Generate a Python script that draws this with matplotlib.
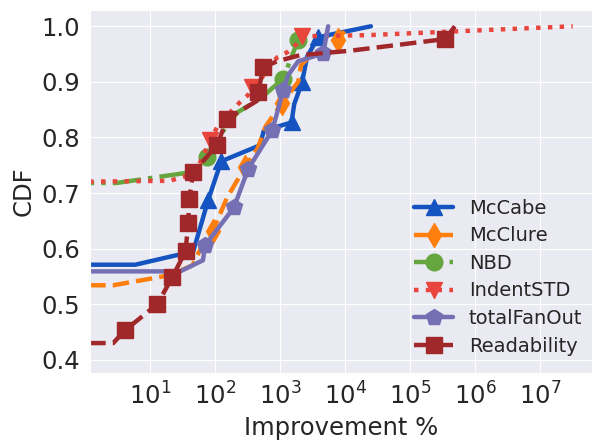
import matplotlib
matplotlib.use("Agg")
import matplotlib.pyplot as plt
import seaborn as sns

# CDF curves (x = improvement %, y = CDF)
mccabe_x = [0.5, 5.9, 46, 78, 124, 493, 560, 1500, 1650, 2180, 2600, 3830, 6000, 25000]
mccabe_y = [0.571, 0.571, 0.595, 0.687, 0.757, 0.786, 0.812, 0.827, 0.860, 0.899, 0.945, 0.980, 0.985, 1.0]
mccabe_marks = [3, 4, 7, 9, 11]

mcclure_x = [0.5, 2.7, 20, 45, 60, 93, 150, 290, 450, 600, 1070, 1900, 2100, 2800, 5500, 7800, 11000]
mcclure_y = [0.534, 0.534, 0.552, 0.570, 0.600, 0.632, 0.690, 0.747, 0.780, 0.820, 0.862, 0.900, 0.930, 0.945, 0.955, 0.975, 1.0]
mcclure_marks = [5, 7, 10, 15]

nbd_x = [0.5, 3, 40, 76, 130, 220, 500, 1120, 1500, 1900, 2700]
nbd_y = [0.718, 0.718, 0.737, 0.764, 0.810, 0.845, 0.870, 0.906, 0.945, 0.975, 1.0]
nbd_marks = [3, 7, 9]

indent_x = [0.5, 20, 49, 84, 107, 183, 240, 320, 370, 490, 900, 1280, 1830, 2180, 21800, 2.2e5, 3.2e7]
indent_y = [0.720, 0.722, 0.735, 0.795, 0.818, 0.849, 0.863, 0.876, 0.890, 0.903, 0.944, 0.953, 0.969, 0.982, 0.984, 0.989, 1.0]
indent_marks = [3, 8, 13]

fanout_x = [0.5, 29, 65, 70, 195, 322, 760, 1120, 1330, 1900, 4600, 5500]
fanout_y = [0.559, 0.559, 0.579, 0.606, 0.674, 0.743, 0.813, 0.885, 0.912, 0.937, 0.951, 1.0]
fanout_marks = [3, 4, 5, 6, 7, 10]

read_x = [0.5, 2.7, 4.1, 12.9, 22, 35, 38.5, 40, 46, 107, 152, 290, 430, 460, 550, 900, 2030, 12000, 3.5e5, 4.9e5]
read_y = [0.430, 0.430, 0.453, 0.500, 0.549, 0.595, 0.646, 0.690, 0.737, 0.786, 0.833, 0.853, 0.865, 0.881, 0.926, 0.937, 0.948, 0.956, 0.977, 1.0]
read_marks = [2, 3, 4, 5, 6, 7, 8, 9, 10, 13, 14, 18]

sns.set_style("darkgrid")
fig = plt.figure(figsize=(5.93, 4.41), dpi=100)
ax = fig.add_axes([0.152, 0.154, 0.846, 0.823])

kw = dict(lw=3.2, ms=12)
ax.plot(mccabe_x, mccabe_y, '-', marker='^', color='#1554c0', markevery=mccabe_marks, label='McCabe', **kw)
ax.plot(mcclure_x, mcclure_y, '--', marker='d', color='#ff7f0e', markevery=mcclure_marks, label='McClure', **kw)
ax.plot(nbd_x, nbd_y, '-.', marker='o', color='#66a63f', markevery=nbd_marks, label='NBD', **kw)
ax.plot(indent_x, indent_y, ':', marker='v', color='#e8453c', markevery=indent_marks, label='IndentSTD', **kw)
ax.plot(fanout_x, fanout_y, '-', marker='p', color='#7570b3', markevery=fanout_marks, label='totalFanOut', **kw)
ax.plot(read_x, read_y, '--', marker='s', color='#a1282a', markevery=read_marks, label='Readability', **kw)

ax.set_xscale('log')
ax.set_xlim(1.19, 6.3e7)
ax.set_ylim(0.376, 1.029)
ax.set_xticks([1e1, 1e2, 1e3, 1e4, 1e5, 1e6, 1e7])
ax.minorticks_off()
ax.tick_params(labelsize=17.5)
ax.set_xlabel('Improvement %', fontsize=17.5)
ax.set_ylabel('CDF', fontsize=17.5)
ax.legend(loc='lower right', bbox_to_anchor=(1.016, 0.0), fontsize=14,
          frameon=False, labelspacing=0.44)

plt.savefig('out.png', dpi=100)
